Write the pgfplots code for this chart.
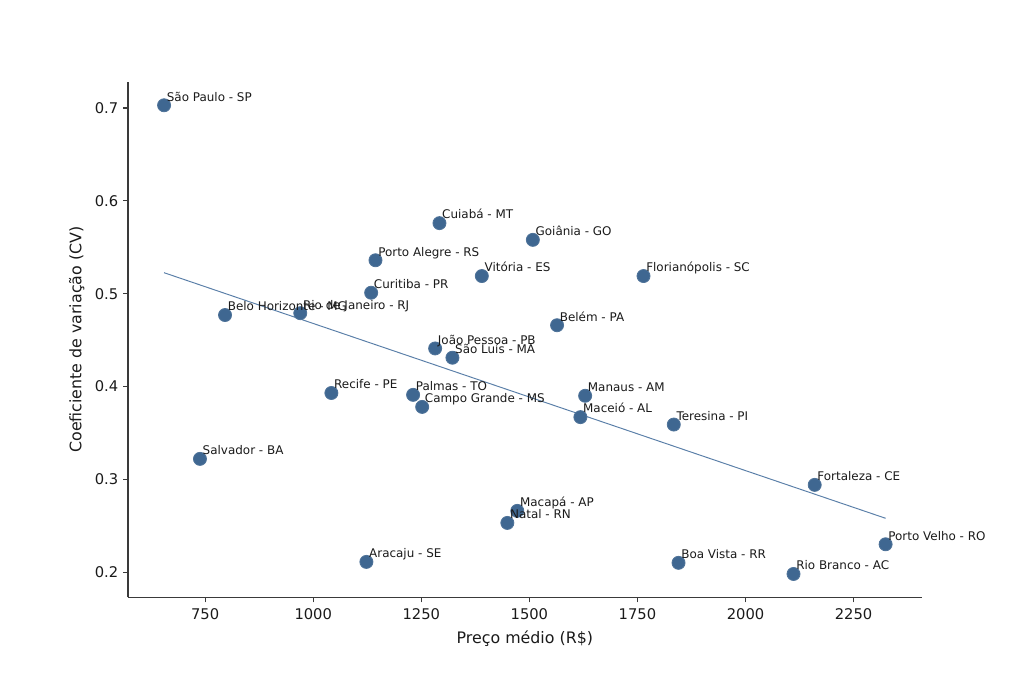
\documentclass[border=0pt]{standalone}
\usepackage{fontspec}
\setmainfont{DejaVu Sans}
\usepackage{pgfplots}
\usepackage{pgfplotstable}
\pgfplotsset{compat=1.18}
\definecolor{pt}{HTML}{3F6791}
\definecolor{ptedge}{HTML}{4F7399}
\definecolor{trend}{HTML}{5A7FA8}
\definecolor{axc}{HTML}{3A3A3A}
\definecolor{txt}{HTML}{1A1A1A}
\pgfplotstableread{
x y label
655 0.703 {São Paulo - SP}
738 0.322 {Salvador - BA}
796 0.477 {Belo Horizonte - MG}
970 0.479 {Rio de Janeiro - RJ}
1042 0.393 {Recife - PE}
1123 0.211 {Aracaju - SE}
1134 0.501 {Curitiba - PR}
1144 0.536 {Porto Alegre - RS}
1231 0.391 {Palmas - TO}
1252 0.378 {Campo Grande - MS}
1282 0.441 {João Pessoa - PB}
1292 0.576 {Cuiabá - MT}
1322 0.431 {São Luís - MA}
1390 0.519 {Vitória - ES}
1449 0.253 {Natal - RN}
1472 0.266 {Macapá - AP}
1508 0.558 {Goiânia - GO}
1564 0.466 {Belém - PA}
1618 0.367 {Maceió - AL}
1629 0.390 {Manaus - AM}
1764 0.519 {Florianópolis - SC}
1834 0.359 {Teresina - PI}
1845 0.210 {Boa Vista - RR}
2111 0.198 {Rio Branco - AC}
2160 0.294 {Fortaleza - CE}
2324 0.230 {Porto Velho - RO}
}\capitais
\begin{document}
\begin{tikzpicture}
\begin{axis}[
  name=ax, at={(0,0)}, anchor=south west,
  scale only axis, width=571.5pt, height=371.3pt,
  xmin=571.5, xmax=2407.5, ymin=0.1727, ymax=0.7283,
  axis lines=left, axis line style={-, axc, line width=0.8pt},
  tick align=outside, major tick length=3.5pt,
  tick style={axc, line width=0.8pt},
  xtick={750,1000,1250,1500,1750,2000,2250},
  ytick={0.2,0.3,0.4,0.5,0.6,0.7},
  /pgf/number format/assume math mode=true,
  tick label style={font=\fontsize{10.6}{12.5}\selectfont, text=txt},
  xticklabel style={/pgf/number format/set thousands separator={}, yshift=-1pt},
  yticklabel style={/pgf/number format/.cd, fixed, fixed zerofill, precision=1},
  xlabel={Preço médio (R\$)},
  ylabel={Coeficiente de variação (CV)},
  label style={font=\fontsize{11.4}{13.5}\selectfont, text=txt},
  xlabel style={at={(axis description cs:0.5,-0.0795)}, anchor=center},
  ylabel style={at={(axis description cs:-0.0646,0.5)}, anchor=center},
  clip=false,
]
\addplot[trend, line width=0.7pt, no markers] coordinates {(655,0.5226) (2324,0.2580)};
\addplot[
  only marks, mark=*, mark size=4.7pt,
  mark options={fill=pt, draw=ptedge, line width=0.6pt},
] table[x=x, y=y] {\capitais};
\addplot[
  only marks, mark=none,
  point meta=explicit symbolic,
  nodes near coords={\pgfplotspointmeta},
  nodes near coords style={anchor=base west, inner sep=0pt, xshift=1.8pt, yshift=3pt, font=\fontsize{8.6}{10}\selectfont, text=txt},
] table[x=x, y=y, meta=label] {\capitais};
\end{axis}
\pgfresetboundingbox
\path[use as bounding box] ([shift={(-92.16pt,-61.4pt)}]ax.south west) rectangle ([shift={(73.66pt,58.9pt)}]ax.north east);
\end{tikzpicture}
\end{document}
